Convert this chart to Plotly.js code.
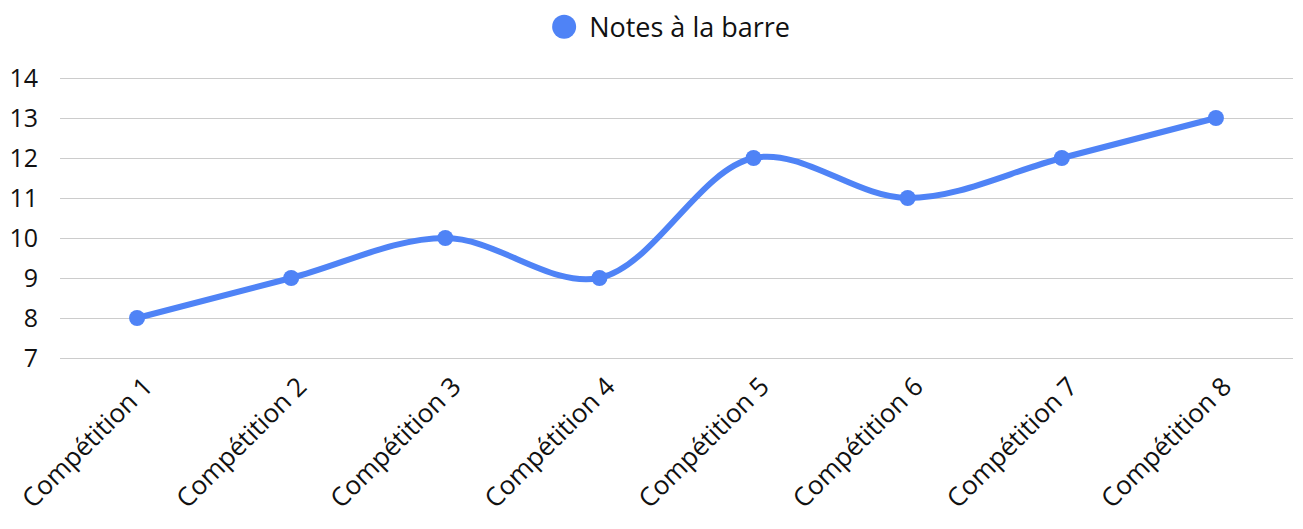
<!DOCTYPE html>
<html>
<head>
<meta charset="utf-8">
<script src="https://cdn.plot.ly/plotly-3.0.1.min.js"></script>
<style>html,body{margin:0;padding:0;background:#fff;}#chart{width:1303px;height:529px;}</style>
</head>
<body>
<div id="chart"></div>
<script>
const categories = ["Compétition 1","Compétition 2","Compétition 3","Compétition 4","Compétition 5","Compétition 6","Compétition 7","Compétition 8"];
const notes = [8, 9, 10, 9, 12, 11, 12, 13];
const seriesName = "Notes à la barre";
const yTicks = [7, 8, 9, 10, 11, 12, 13, 14];

const color = "#4f83f6";
const trace = {
  x: categories,
  y: notes,
  name: seriesName,
  type: "scatter",
  mode: "lines+markers",
  showlegend: false,
  line: {color: color, width: 6, shape: "spline", smoothing: 1},
  marker: {color: color, size: 16},
  hoverinfo: "x+y"
};
const legendTrace = {
  x: [null],
  y: [null],
  name: seriesName,
  type: "scatter",
  mode: "markers",
  marker: {color: color, size: 24},
  showlegend: true
};

const layout = {
  width: 1303,
  height: 529,
  margin: {l: 60, r: 10, t: 76, b: 169, autoexpand: false},
  paper_bgcolor: "#fff",
  plot_bgcolor: "#fff",
  font: {family: "Open Sans, Noto Sans, sans-serif", size: 26, color: "#111"},
  showlegend: true,
  legend: {orientation: "h", x: 0.512, xanchor: "center", xref: "container", y: 0.995, yanchor: "top", yref: "container", font: {size: 27, color: "#111"}, itemsizing: "trace", itemwidth: 40},
  xaxis: {
    type: "category",
    range: [-0.5, 7.5],
    tickangle: -45,
    showgrid: false,
    showline: false,
    zeroline: false,
    ticks: "",
    automargin: false,
    ticklabelshift: 8,
    ticklabelstandoff: 5,
    tickfont: {size: 26}
  },
  yaxis: {
    range: [6.95, 14.05],
    tickvals: yTicks,
    ticktext: yTicks.map(String),
    showgrid: true,
    gridcolor: "#cccccc",
    gridwidth: 1,
    zeroline: false,
    showline: false,
    ticks: "",
    automargin: false,
    ticklabelstandoff: 21,
    tickfont: {size: 25}
  }
};

Plotly.newPlot("chart", [trace, legendTrace], layout, {displayModeBar: false, staticPlot: true}).then(function () {
  document.querySelectorAll(".legend .legendpoints path.scatterpts").forEach(function (p) {
    p.setAttribute("d", "M12,0A12,12 0 1,1 0,-12A12,12 0 0,1 12,0Z");
  });
});
</script>
</body>
</html>
